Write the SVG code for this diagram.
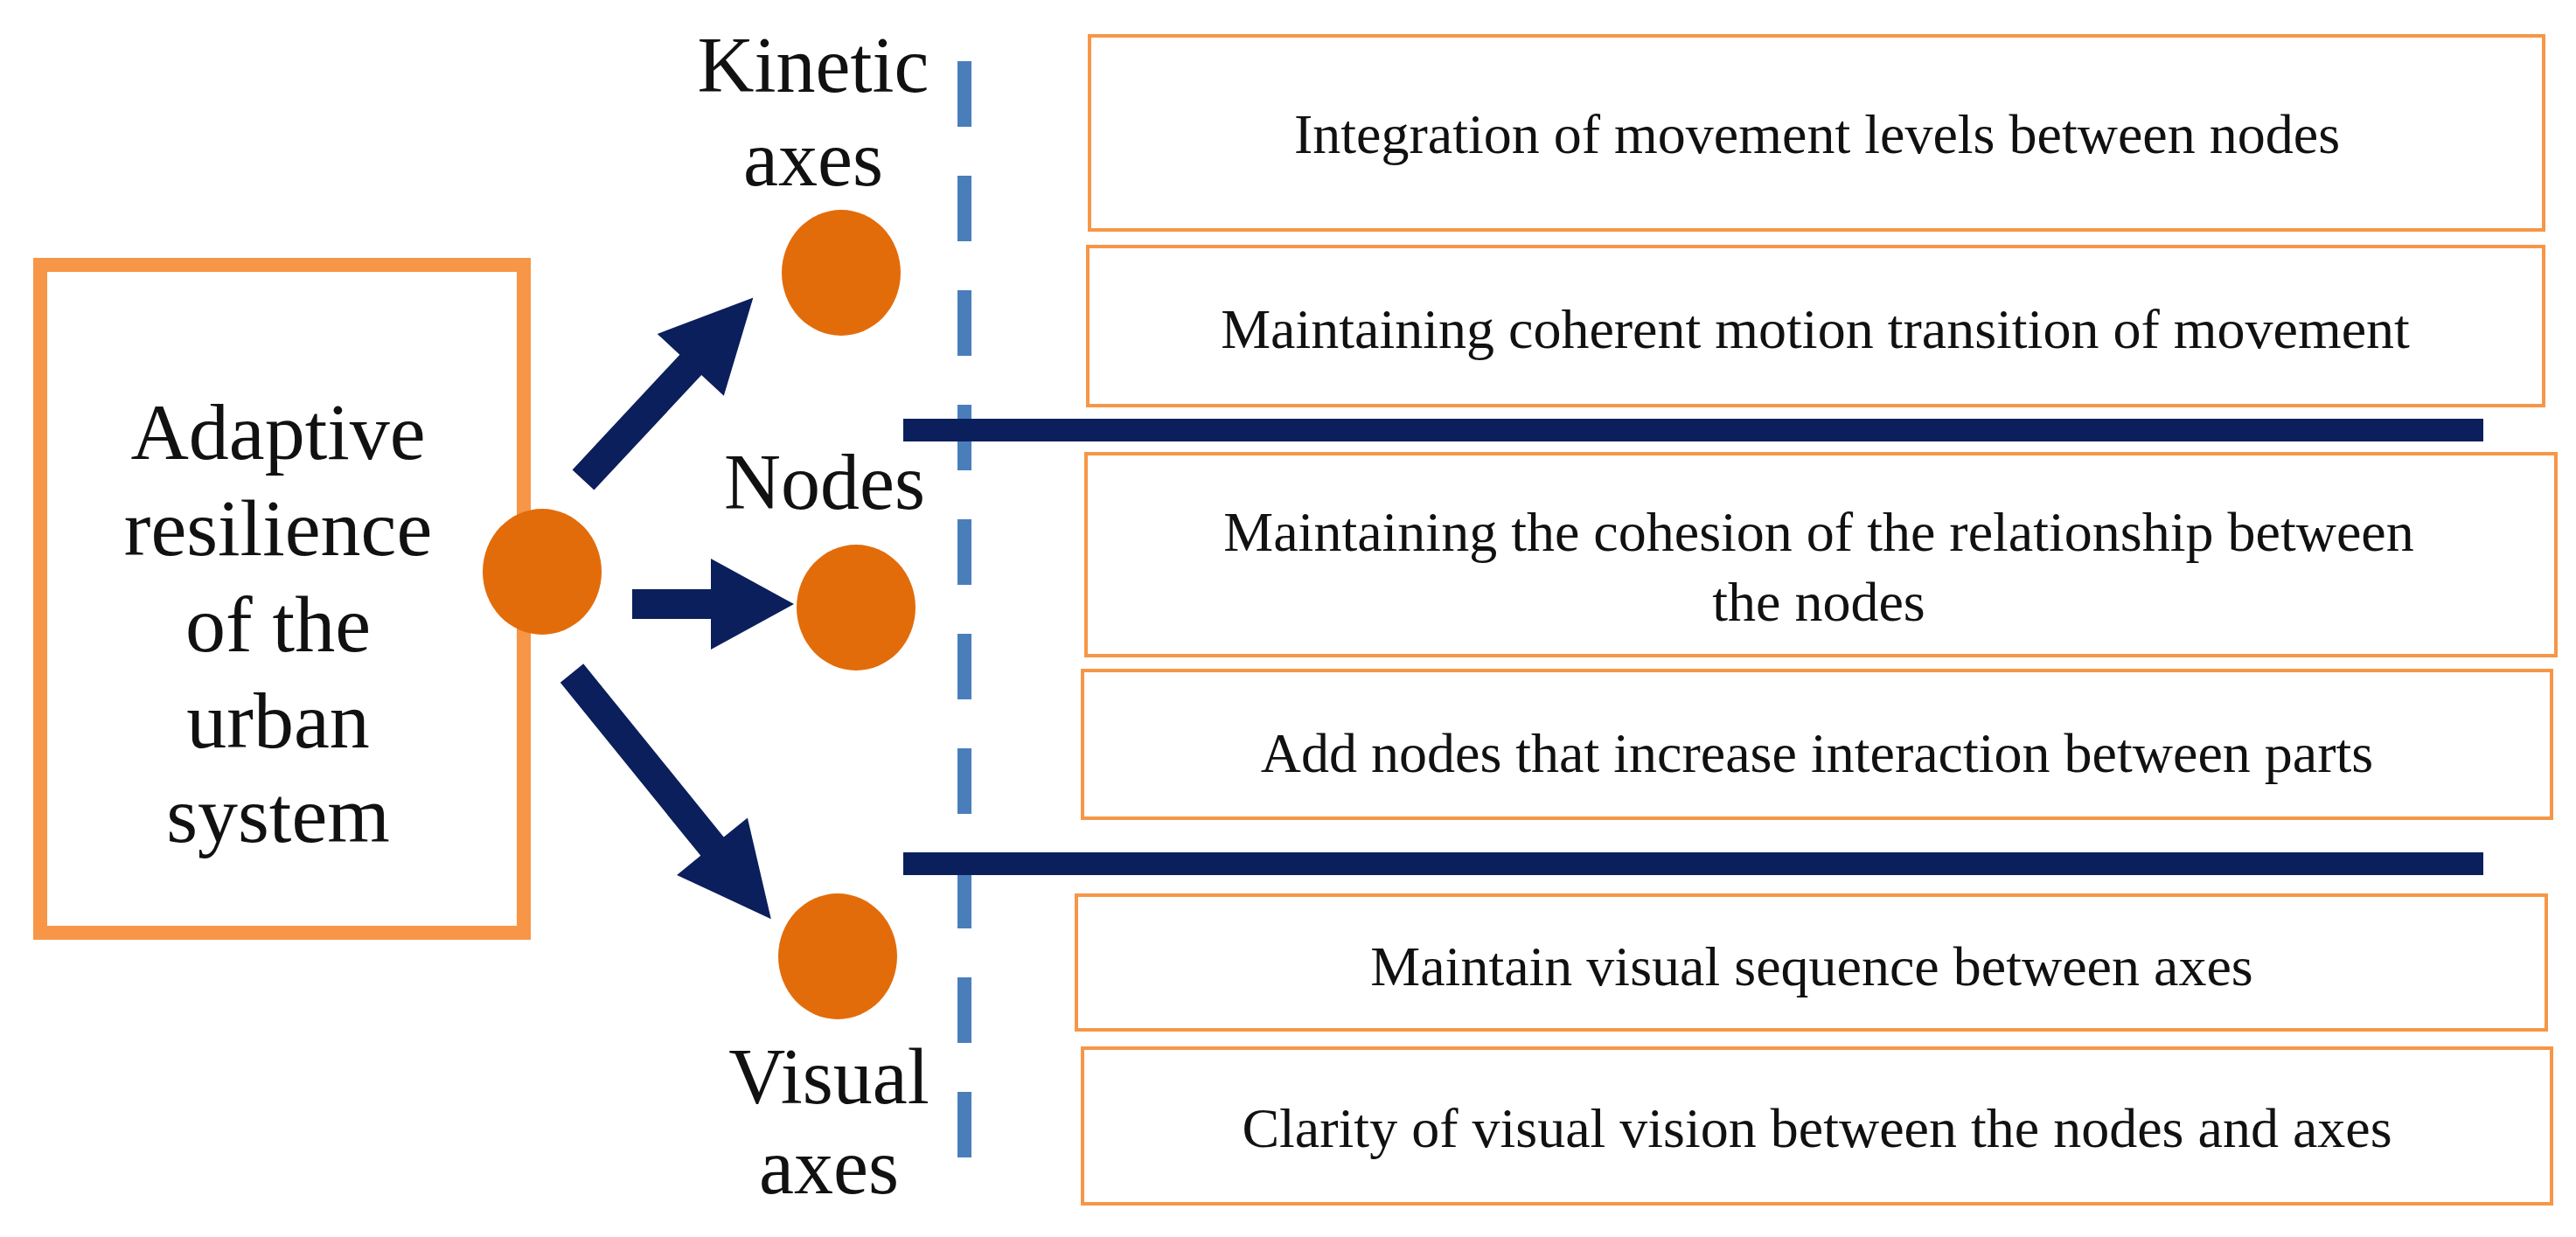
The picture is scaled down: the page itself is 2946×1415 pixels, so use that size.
<svg xmlns="http://www.w3.org/2000/svg" width="2946" height="1415" viewBox="0 0 2946 1415">
<style>
text{font-family:'Liberation Serif',serif;fill:#111;text-anchor:middle}
.big{font-size:92px}
.lab{font-size:90px}
.t{font-size:64px}
.box{fill:#fff;stroke:#F79646;stroke-width:4}
.dot{fill:#E36C0A}
.arr{fill:#0B1F5C}
</style>
<rect width="2946" height="1415" fill="#fff"/>
<g id="main">
<rect x="46" y="303" width="553" height="764" fill="#fff" stroke="#F79646" stroke-width="16"/>
<text class="big" x="318" y="525">Adaptive</text>
<text class="big" x="318" y="635">resilience</text>
<text class="big" x="318" y="745">of the</text>
<text class="big" x="318" y="855">urban</text>
<text class="big" x="318" y="963">system</text>
<ellipse class="dot" cx="620" cy="654" rx="68" ry="72"/>
</g>
<g id="kinetic">
<ellipse class="dot" cx="962" cy="312" rx="68" ry="72"/>
<text class="lab" x="930" y="105">Kinetic</text>
<text class="lab" x="930" y="212">axes</text>
</g>
<g id="nodes">
<ellipse class="dot" cx="979" cy="695" rx="68" ry="72"/>
<text class="lab" x="943" y="582">Nodes</text>
</g>
<g id="visual">
<ellipse class="dot" cx="958" cy="1094" rx="68" ry="72"/>
<text class="lab" x="948" y="1262">Visual</text>
<text class="lab" x="948" y="1365">axes</text>
</g>
<g id="connectors">
<line x1="1103" y1="70" x2="1103" y2="1360" stroke="#4A7EBB" stroke-width="16" stroke-dasharray="75,56"/>
<line x1="1033" y1="492" x2="2840" y2="492" stroke="#0B1F5C" stroke-width="26"/>
<line x1="1033" y1="988" x2="2840" y2="988" stroke="#0B1F5C" stroke-width="26"/>
<path class="arr" transform="translate(667,549) rotate(-47)" d="M0,-17 H180 V-52 L285,0 L180,52 V17 H0 Z"/>
<path class="arr" transform="translate(723,691)" d="M0,-17 H90 V-52 L185,0 L90,52 V17 H0 Z"/>
<path class="arr" transform="translate(654,770) rotate(51)" d="M0,-17 H255 V-52 L362,0 L255,52 V17 H0 Z"/>
</g>
<g id="b1"><rect class="box" x="1246" y="41" width="1663" height="222"/><text class="t" x="2078" y="175">Integration of movement levels between nodes</text></g>
<g id="b2"><rect class="box" x="1244" y="282" width="1665" height="182"/><text class="t" x="2076" y="398">Maintaining coherent motion transition of movement</text></g>
<g id="b3"><rect class="box" x="1242" y="519" width="1681" height="231"/><text class="t" x="2080" y="630">Maintaining the cohesion of the relationship between</text><text class="t" x="2080" y="710">the nodes</text></g>
<g id="b4"><rect class="box" x="1238" y="767" width="1680" height="169"/><text class="t" x="2078" y="883">Add nodes that increase interaction between parts</text></g>
<g id="b5"><rect class="box" x="1231" y="1024" width="1681" height="154"/><text class="t" x="2072" y="1127">Maintain visual sequence between axes</text></g>
<g id="b6"><rect class="box" x="1238" y="1199" width="1680" height="178"/><text class="t" x="2078" y="1312">Clarity of visual vision between the nodes and axes</text></g>
</svg>
